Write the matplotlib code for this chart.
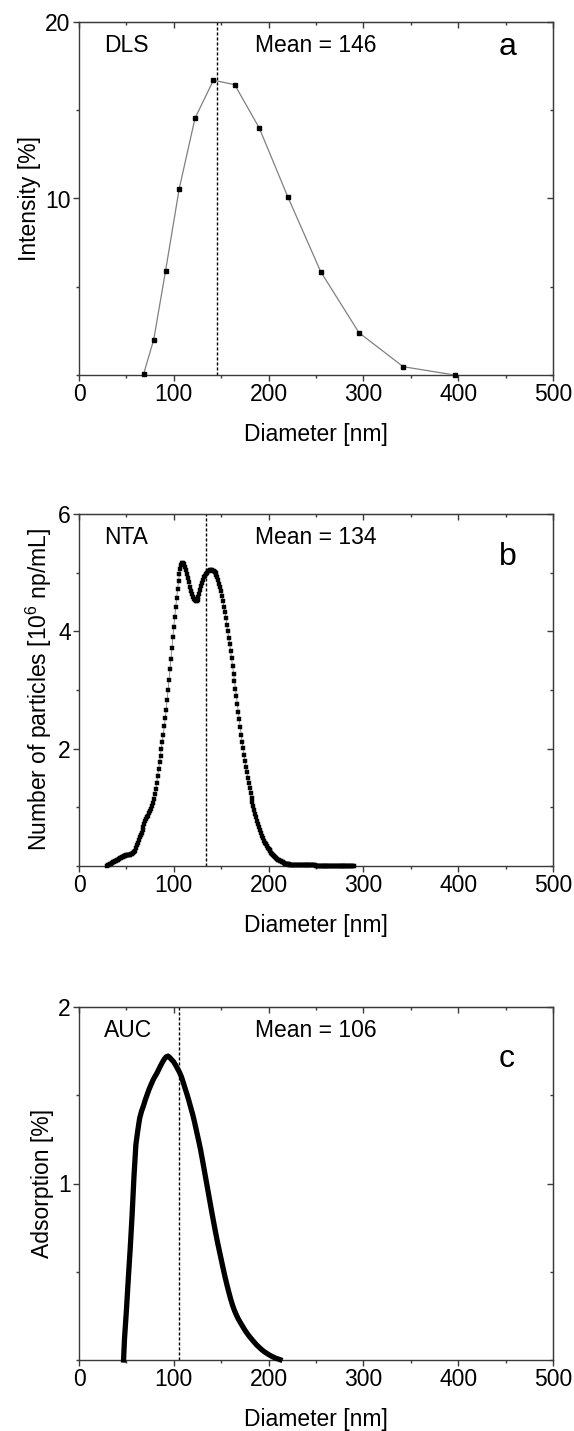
import numpy as np
import matplotlib
matplotlib.use("Agg")
import matplotlib.pyplot as plt
from matplotlib.ticker import MultipleLocator

plt.rcParams['font.family'] = ['Liberation Sans', 'DejaVu Sans']
plt.rcParams['mathtext.fontset'] = 'custom'
plt.rcParams['mathtext.rm'] = 'Liberation Sans'
plt.rcParams['mathtext.it'] = 'Liberation Sans:italic'

# DLS intensity distribution (Malvern bins)
dls_diam = [68.1, 78.8, 91.3, 105.7, 122.4, 141.8, 164.2, 190.1, 220.2, 255.0, 295.3, 342.0, 396.1]
dls_int = [0.05, 2.0, 5.9, 10.55, 14.55, 16.7, 16.45, 14.0, 10.1, 5.85, 2.4, 0.47, 0.0]
dls_mean = 146

# NTA number distribution, 1 nm bins from 30 nm
nta_start = 30
nta_conc = [
    0.00, 0.01, 0.02, 0.03, 0.04, 0.05, 0.06, 0.07, 0.08, 0.09,
    0.10, 0.11, 0.12, 0.13, 0.14, 0.15, 0.16, 0.17, 0.17, 0.17,
    0.18, 0.18, 0.18, 0.19, 0.19, 0.20, 0.21, 0.22, 0.24, 0.26,
    0.30, 0.35, 0.40, 0.45, 0.49, 0.52, 0.57, 0.62, 0.67, 0.72,
    0.76, 0.80, 0.83, 0.86, 0.90, 0.93, 0.97, 1.02, 1.08, 1.15,
    1.23, 1.31, 1.42, 1.53, 1.65, 1.77, 1.88, 2.00, 2.12, 2.24,
    2.38, 2.52, 2.66, 2.83, 3.00, 3.17, 3.35, 3.53, 3.72, 3.91,
    4.08, 4.25, 4.41, 4.57, 4.72, 4.86, 4.98, 5.07, 5.13, 5.16,
    5.17, 5.15, 5.10, 5.04, 4.98, 4.91, 4.84, 4.76, 4.69, 4.63,
    4.58, 4.55, 4.53, 4.52, 4.52, 4.54, 4.58, 4.63, 4.70, 4.77,
    4.83, 4.88, 4.92, 4.95, 4.98, 5.00, 5.02, 5.03, 5.04, 5.04,
    5.04, 5.03, 5.02, 5.01, 4.99, 4.96, 4.92, 4.87, 4.81, 4.75,
    4.68, 4.60, 4.51, 4.42, 4.33, 4.22, 4.11, 4.00, 3.89, 3.78,
    3.66, 3.54, 3.41, 3.28, 3.15, 3.02, 2.89, 2.76, 2.63, 2.50,
    2.37, 2.24, 2.12, 2.01, 1.90, 1.79, 1.69, 1.60, 1.50, 1.42,
    1.33, 1.25, 1.16, 1.09, 1.02, 0.95, 0.89, 0.83, 0.77, 0.71,
    0.66, 0.61, 0.56, 0.51, 0.47, 0.43, 0.40, 0.37, 0.34, 0.31,
    0.29, 0.27, 0.25, 0.23, 0.21, 0.19, 0.17, 0.15, 0.13, 0.12,
    0.11, 0.10, 0.09, 0.08, 0.07, 0.06, 0.05, 0.04, 0.04, 0.03,
    0.03, 0.03, 0.02, 0.02, 0.02, 0.02, 0.015, 0.015, 0.015, 0.015,
    0.01, 0.01, 0.01, 0.01, 0.01, 0.01, 0.01, 0.01, 0.01, 0.01,
    0.01, 0.01, 0.01, 0.01, 0.01, 0.01, 0.01, 0.01, 0.01, 0.01,
    0.008, 0.008, 0.008, 0.008, 0.008, 0.008, 0.008, 0.008, 0.008, 0.008,
    0.005, 0.005, 0.005, 0.005, 0.005, 0.005, 0.005, 0.005, 0.005, 0.005,
    0.005, 0.005, 0.005, 0.005, 0.005, 0.003, 0.003, 0.003, 0.003, 0.003,
    0.003, 0.003, 0.002, 0.002, 0.002, 0.0, 0.0, 0.0, 0.0, 0.0,
    0.0,
]
nta_mean = 134

# AUC adsorption distribution, 2 nm steps
auc_diam = [47, 48, 50, 52, 54, 56, 58, 60, 62, 64, 66, 68, 70, 72, 74, 76, 78, 80,
            82, 84, 86, 88, 90, 92, 94, 96, 98, 100, 102, 104, 106, 108, 110, 112,
            114, 116, 118, 120, 122, 124, 126, 128, 130, 132, 134, 136, 138, 140,
            142, 144, 146, 148, 150, 152, 154, 156, 158, 160, 162, 164, 166, 168,
            170, 172, 174, 176, 178, 180, 182, 184, 186, 188, 190, 192, 194, 196,
            198, 200, 202, 204, 206, 208, 210, 212]
auc_abs = [0.00, 0.12, 0.28, 0.46, 0.63, 0.82, 1.04, 1.22, 1.30, 1.37, 1.41, 1.44,
           1.475, 1.505, 1.535, 1.56, 1.585, 1.605, 1.623, 1.645, 1.667, 1.687,
           1.705, 1.718, 1.722, 1.712, 1.700, 1.688, 1.670, 1.650, 1.630, 1.605,
           1.572, 1.537, 1.504, 1.467, 1.428, 1.390, 1.345, 1.296, 1.248, 1.198,
           1.140, 1.080, 1.020, 0.960, 0.900, 0.840, 0.782, 0.725, 0.670, 0.620,
           0.570, 0.520, 0.472, 0.427, 0.385, 0.345, 0.310, 0.280, 0.255, 0.233,
           0.214, 0.196, 0.178, 0.161, 0.146, 0.132, 0.119, 0.106, 0.094, 0.082,
           0.072, 0.062, 0.053, 0.045, 0.038, 0.031, 0.025, 0.019, 0.014, 0.009,
           0.006, 0.002]
auc_mean = 106

FS = 16.5
SPINE = '#3a3a3a'


def style_axes(ax, ymax, ymajor, ylabel):
    ax.set_xlim(0, 500)
    ax.set_ylim(0, ymax)
    ax.xaxis.set_major_locator(MultipleLocator(100))
    ax.xaxis.set_minor_locator(MultipleLocator(50))
    yt = np.arange(ymajor, ymax + ymajor / 2, ymajor)
    ax.set_yticks(yt)
    ax.set_yticklabels([f"{v:g}" for v in yt])
    ax.yaxis.set_minor_locator(MultipleLocator(ymajor / 2))
    for s in ax.spines.values():
        s.set_color(SPINE)
        s.set_linewidth(1.0)
    ax.tick_params(which='major', direction='out', length=4, width=1.0,
                   color=SPINE, labelsize=FS, pad=2)
    ax.tick_params(which='minor', direction='out', length=2.4, width=1.0, color=SPINE)
    ax.set_xlabel('Diameter [nm]', fontsize=FS, labelpad=12)
    ax.set_ylabel(ylabel, fontsize=FS, labelpad=3)

    top = ax.secondary_xaxis('top')
    top.xaxis.set_major_locator(MultipleLocator(100))
    top.xaxis.set_minor_locator(MultipleLocator(50))
    top.tick_params(which='both', direction='in', labeltop=False, color=SPINE, width=1.0)
    top.tick_params(which='major', length=4)
    top.tick_params(which='minor', length=2.4)
    top.spines['top'].set_color(SPINE)

    right = ax.secondary_yaxis('right')
    right.set_yticks(yt)
    right.yaxis.set_minor_locator(MultipleLocator(ymajor / 2))
    right.tick_params(which='both', direction='in', labelright=False, color=SPINE, width=1.0)
    right.tick_params(which='major', length=4)
    right.tick_params(which='minor', length=2.4)
    right.spines['right'].set_color(SPINE)


def labels(ax, method, mean, letter, ymax, letter_y):
    ax.axvline(mean, color='black', lw=1.0, linestyle=(0, (2.2, 1.4)), zorder=1)
    ax.text(26, 0.934 * ymax, method, fontsize=FS, ha='left', va='center')
    ax.text(186, 0.934 * ymax, f'Mean = {mean}', fontsize=FS, ha='left', va='center')
    ax.text(443, letter_y * ymax, letter, fontsize=23, ha='left', va='center')


fig = plt.figure(figsize=(5.74, 14.31), dpi=100)
W, H = 574.0, 1431.0
L = 79 / W
AW = 474 / W

# panel a: DLS
ax1 = fig.add_axes([L, 1 - 375 / H, AW, 353 / H])
ax1.plot(dls_diam, dls_int, color='#808080', lw=0.9, marker='s', markersize=2.8,
         markerfacecolor='black', markeredgecolor='black', zorder=3, clip_on=False)
style_axes(ax1, 20, 10, 'Intensity [%]')
labels(ax1, 'DLS', dls_mean, 'a', 20, 0.93)

# panel b: NTA
nta_diam = np.arange(nta_start, nta_start + len(nta_conc))
ax2 = fig.add_axes([L, 1 - 866 / H, AW, 352 / H])
ax2.plot(nta_diam, nta_conc, color='#808080', lw=0.6, marker='s', markersize=3.1,
         markerfacecolor='black', markeredgecolor='black', markeredgewidth=0.3,
         zorder=3, clip_on=False)
style_axes(ax2, 6, 2, r'Number of particles [10$^{6}$ np/mL]')
labels(ax2, 'NTA', nta_mean, 'b', 6, 0.877)

# panel c: AUC
ax3 = fig.add_axes([L, 1 - 1360 / H, AW, 353 / H])
ax3.plot(auc_diam, auc_abs, color='black', lw=3.8, solid_joinstyle='round',
         zorder=3, clip_on=False)
style_axes(ax3, 2, 1, 'Adsorption [%]')
labels(ax3, 'AUC', auc_mean, 'c', 2, 0.853)

fig.savefig('out.png', dpi=100)
